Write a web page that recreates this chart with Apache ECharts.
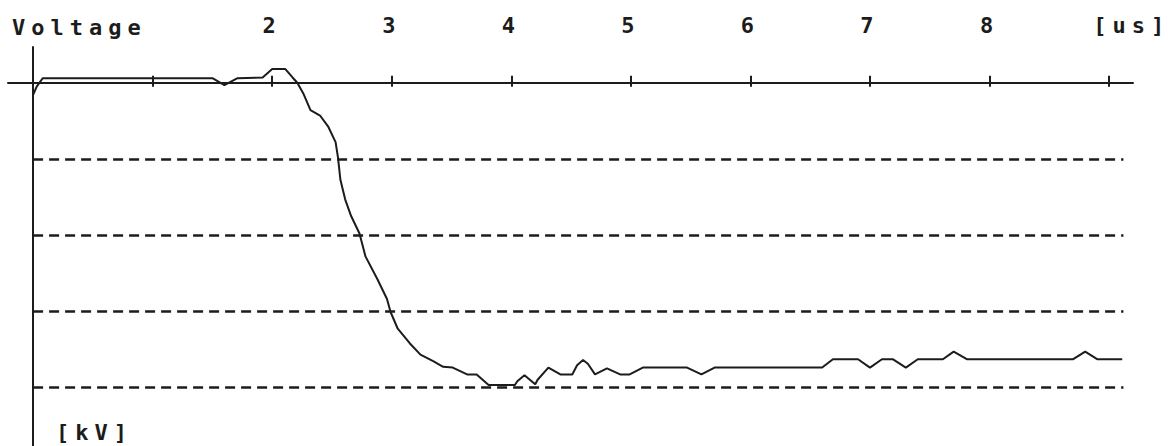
<!DOCTYPE html>
<html>
<head>
<meta charset="utf-8">
<script src="https://cdn.jsdelivr.net/npm/echarts@6/dist/echarts.min.js"></script>
<style>
  html, body { margin: 0; padding: 0; background: #ffffff; }
  #chart { width: 1172px; height: 446px; }
  #chart svg text { letter-spacing: 6px; }
</style>
</head>
<body>
<div id="chart"></div>
<script>
// ---- data ----
const timeUs = [0.00, 0.03, 0.08, 1.50, 1.60, 1.71, 1.92, 2.00, 2.11, 2.17, 2.21, 2.26, 2.32, 2.40, 2.47, 2.53, 2.55, 2.57, 2.61, 2.66, 2.73, 2.78, 2.88, 2.96, 2.99, 3.05, 3.15, 3.24, 3.35, 3.43, 3.51, 3.63, 3.71, 3.81, 4.03, 4.05, 4.11, 4.20, 4.22, 4.31, 4.41, 4.51, 4.55, 4.60, 4.64, 4.70, 4.80, 4.91, 4.99, 5.10, 5.47, 5.59, 5.70, 6.60, 6.69, 6.90, 7.00, 7.10, 7.19, 7.30, 7.40, 7.61, 7.70, 7.81, 8.70, 8.80, 8.90, 9.11];
const voltageKv = [-0.16, -0.05, 0.06, 0.06, -0.03, 0.06, 0.07, 0.18, 0.18, 0.07, 0.00, -0.14, -0.36, -0.43, -0.58, -0.78, -0.98, -1.27, -1.53, -1.75, -1.98, -2.28, -2.58, -2.84, -3.01, -3.23, -3.42, -3.57, -3.66, -3.73, -3.74, -3.83, -3.83, -3.97, -3.97, -3.92, -3.84, -3.96, -3.90, -3.74, -3.83, -3.83, -3.71, -3.64, -3.69, -3.83, -3.75, -3.83, -3.83, -3.74, -3.74, -3.83, -3.74, -3.74, -3.63, -3.63, -3.74, -3.63, -3.63, -3.74, -3.63, -3.63, -3.53, -3.63, -3.63, -3.53, -3.63, -3.63];
const xTickValues = [1, 2, 3, 4, 5, 6, 7, 8, 9];
const xLabelValues = [2, 3, 4, 5, 6, 7, 8, 9.19];
const xUnitLabel = '[us]';
const gridLevels = [-1, -2, -3, -4];
const gridLineStart = 0;
const gridLineEnd = 9.12;
const yTitle = 'Voltage';
const yUnitLabel = '[kV]';

const FONT = 'DejaVu Sans Mono';
const INK = '#1c1c1c';

const seriesData = timeUs.map((t, i) => [t, voltageKv[i]]);
const markLineData = gridLevels.map(v => [{ coord: [gridLineStart, v] }, { coord: [gridLineEnd, v] }]);

const chart = echarts.init(document.getElementById('chart'), null, { renderer: 'svg' });
chart.setOption({
  backgroundColor: '#ffffff',
  animation: false,
  title: [
    { text: yTitle, left: 12, top: 16, padding: 0,
      textStyle: { fontFamily: FONT, fontSize: 22, fontWeight: 'bold', color: INK } },
    { text: yUnitLabel, left: 56, top: 421, padding: 0,
      textStyle: { fontFamily: FONT, fontSize: 22, fontWeight: 'bold', color: INK } }
  ],
  grid: { left: 8, right: 39, top: 47, bottom: 0, containLabel: false, outerBoundsMode: 'none' },
  xAxis: [
    {
      type: 'value', position: 'top', min: -0.21, max: 9.2,
      axisLine: { show: true, onZero: true, onZeroAxisIndex: 0, lineStyle: { color: INK, width: 2 } },
      axisTick: { show: true, inside: false, length: 7, customValues: xTickValues, lineStyle: { color: INK, width: 2 } },
      axisLabel: {
        show: true, margin: 11, customValues: xLabelValues,
        fontFamily: FONT, fontSize: 22, fontWeight: 'bold', color: INK,
        formatter: v => (v > 9 ? xUnitLabel : String(Math.round(v)))
      },
      splitLine: { show: false }
    },
    {
      type: 'value', position: 'top', min: -0.21, max: 9.2,
      axisLine: { show: false, onZero: true, onZeroAxisIndex: 0 },
      axisTick: { show: true, inside: true, length: 4, customValues: xTickValues, lineStyle: { color: INK, width: 2 } },
      axisLabel: { show: false },
      splitLine: { show: false }
    }
  ],
  yAxis: {
    type: 'value', min: -4.77, max: 0.47,
    axisLine: { show: true, onZero: true, lineStyle: { color: INK, width: 2 } },
    axisTick: { show: false },
    axisLabel: { show: false },
    splitLine: { show: false }
  },
  series: [{
    type: 'line',
    xAxisIndex: 0,
    data: seriesData,
    symbol: 'none',
    smooth: false,
    lineStyle: { color: INK, width: 2 },
    markLine: {
      silent: true,
      symbol: ['none', 'none'],
      label: { show: false },
      lineStyle: { color: INK, width: 2.5, type: [10, 6] },
      data: markLineData
    }
  }]
});
</script>
</body>
</html>
